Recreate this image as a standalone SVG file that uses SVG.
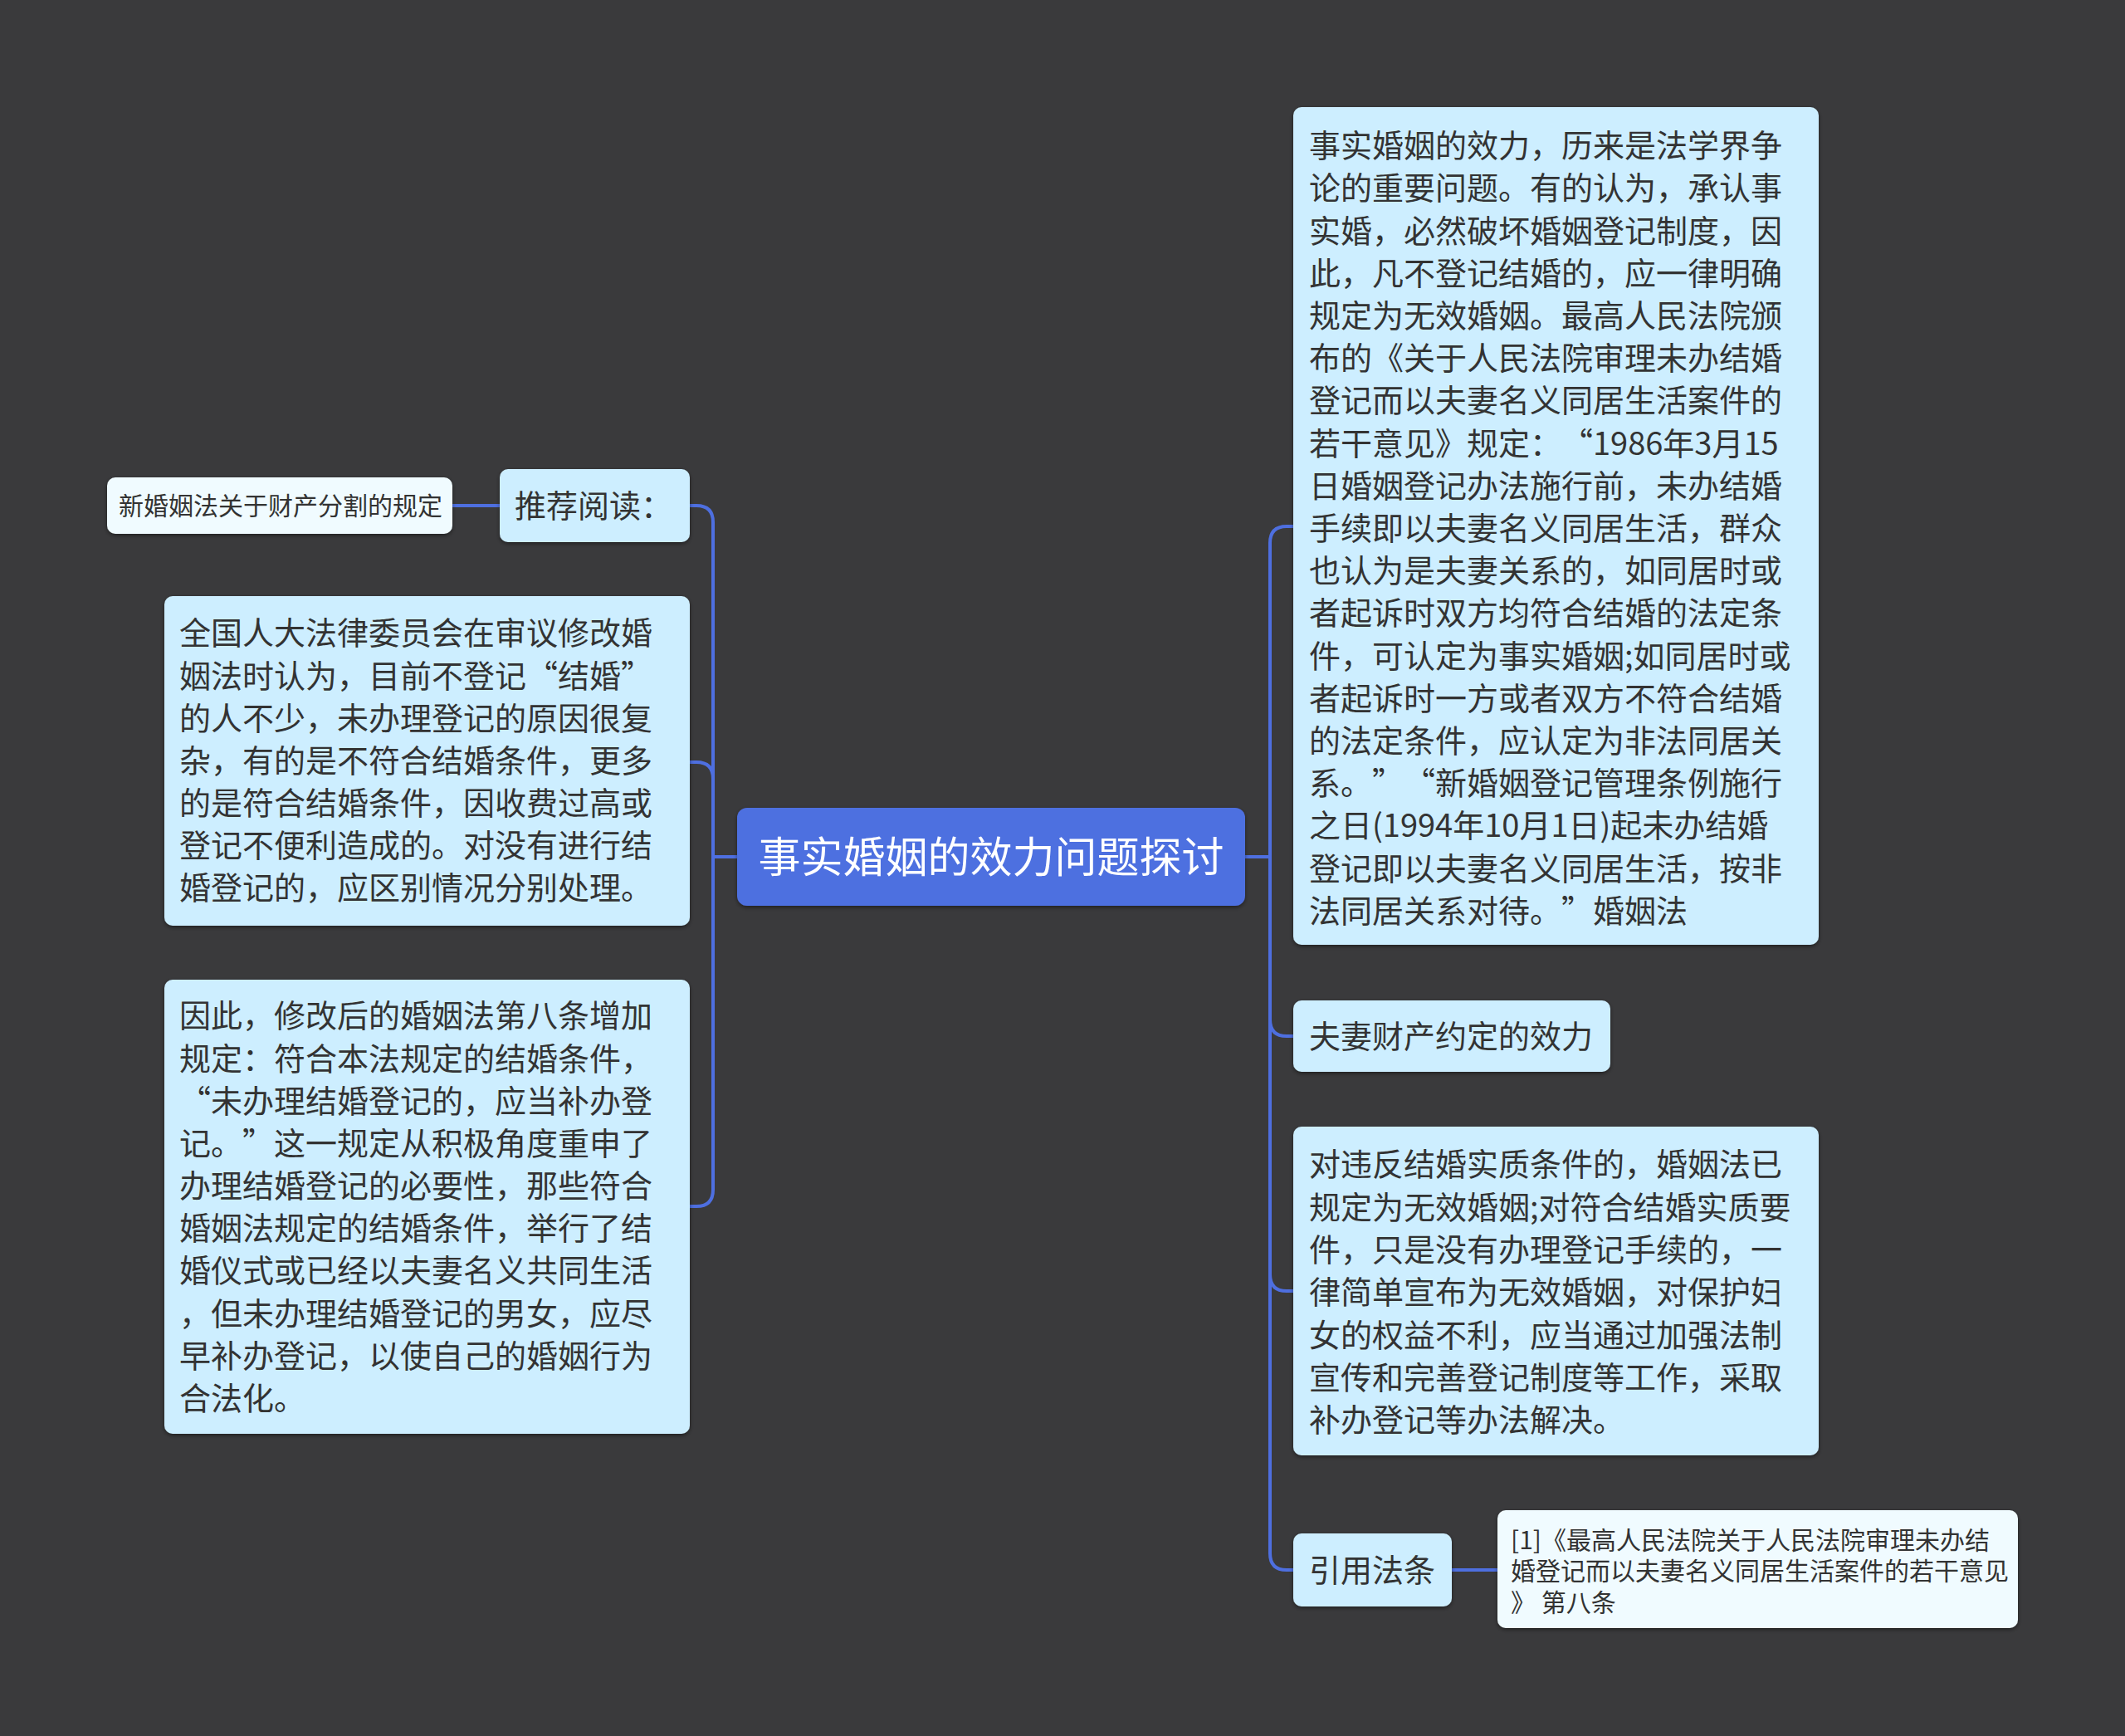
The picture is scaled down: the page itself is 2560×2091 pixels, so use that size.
<svg xmlns="http://www.w3.org/2000/svg" width="2560" height="2091" viewBox="0 0 2560 2091">
<defs>
<filter id="sh" x="-10%" y="-10%" width="120%" height="130%">
<feDropShadow dx="0" dy="2" stdDeviation="2.5" flood-color="#000" flood-opacity="0.45"/>
</filter>
<style>
.n{fill:#cdeeff;filter:url(#sh)}
.leaf{fill:#f0fbff;filter:url(#sh)}
.root{fill:#4e6fe0;filter:url(#sh)}
.t{font-family:"Noto Sans CJK SC","Noto Sans",sans-serif;font-size:38px;fill:#333333}
.ts{font-family:"Noto Sans CJK SC","Noto Sans",sans-serif;font-size:30px;fill:#333333}
.tr{font-family:"Noto Sans CJK SC","Noto Sans",sans-serif;font-size:51px;fill:#ffffff}
.c{fill:none;stroke:#4e6fe0;stroke-width:4;stroke-linecap:round;stroke-linejoin:round}
</style>
</defs>
<rect width="2560" height="2091" fill="#3a3a3c"/>
<g id="connectors">
<path class="c" d="M888 1032 H859 V629 Q859 609 839 609 H831"/>
<path class="c" d="M888 1032 H859 V938 Q859 918 839 918 H831"/>
<path class="c" d="M888 1032 H859 V1433 Q859 1453 839 1453 H831"/>
<path class="c" d="M1500 1032 H1530 V654 Q1530 634 1550 634 H1558"/>
<path class="c" d="M1500 1032 H1530 V1228 Q1530 1248 1550 1248 H1558"/>
<path class="c" d="M1500 1032 H1530 V1535 Q1530 1555 1550 1555 H1558"/>
<path class="c" d="M1500 1032 H1530 V1871 Q1530 1891 1550 1891 H1558"/>
<path class="c" d="M602 609 H545"/>
<path class="c" d="M1749 1891 H1804"/>
</g>
<g id="root">
<rect class="root" x="888" y="973" width="612" height="118" rx="12"/>
<text class="tr" x="1194" y="1051" text-anchor="middle">事实婚姻的效力问题探讨</text>
</g>
<g id="r1">
<rect class="n" x="1558" y="129" width="633" height="1009" rx="10"/>
<text class="t">
<tspan x="1577" y="189">事实婚姻的效力，历来是法学界争</tspan>
<tspan x="1577" y="240">论的重要问题。有的认为，承认事</tspan>
<tspan x="1577" y="292">实婚，必然破坏婚姻登记制度，因</tspan>
<tspan x="1577" y="343">此，凡不登记结婚的，应一律明确</tspan>
<tspan x="1577" y="394">规定为无效婚姻。最高人民法院颁</tspan>
<tspan x="1577" y="445">布的《关于人民法院审理未办结婚</tspan>
<tspan x="1577" y="496">登记而以夫妻名义同居生活案件的</tspan>
<tspan x="1577" y="548">若干意见》规定：</tspan><tspan x="1881" y="548">“</tspan><tspan x="1919" y="548">1986年3月15</tspan>
<tspan x="1577" y="599">日婚姻登记办法施行前，未办结婚</tspan>
<tspan x="1577" y="650">手续即以夫妻名义同居生活，群众</tspan>
<tspan x="1577" y="701">也认为是夫妻关系的，如同居时或</tspan>
<tspan x="1577" y="752">者起诉时双方均符合结婚的法定条</tspan>
<tspan x="1577" y="804">件，可认定为事实婚姻;如同居时或</tspan>
<tspan x="1577" y="855">者起诉时一方或者双方不符合结婚</tspan>
<tspan x="1577" y="906">的法定条件，应认定为非法同居关</tspan>
<tspan x="1577" y="957">系。</tspan><tspan x="1653" y="957">”</tspan><tspan x="1691" y="957">“</tspan><tspan x="1729" y="957">新婚姻登记管理条例施行</tspan>
<tspan x="1577" y="1008">之日(1994年10月1日)起未办结婚</tspan>
<tspan x="1577" y="1060">登记即以夫妻名义同居生活，按非</tspan>
<tspan x="1577" y="1111">法同居关系对待。</tspan><tspan x="1881" y="1111">”</tspan><tspan x="1919" y="1111">婚姻法</tspan>
</text>
</g>
<g id="r2">
<rect class="n" x="1558" y="1205" width="382" height="86" rx="10"/>
<text class="t" x="1577" y="1262">夫妻财产约定的效力</text>
</g>
<g id="r3">
<rect class="n" x="1558" y="1357" width="633" height="396" rx="10"/>
<text class="t">
<tspan x="1577" y="1416">对违反结婚实质条件的，婚姻法已</tspan>
<tspan x="1577" y="1468">规定为无效婚姻;对符合结婚实质要</tspan>
<tspan x="1577" y="1519">件，只是没有办理登记手续的，一</tspan>
<tspan x="1577" y="1570">律简单宣布为无效婚姻，对保护妇</tspan>
<tspan x="1577" y="1622">女的权益不利，应当通过加强法制</tspan>
<tspan x="1577" y="1673">宣传和完善登记制度等工作，采取</tspan>
<tspan x="1577" y="1724">补办登记等办法解决。</tspan>
</text>
</g>
<g id="r4">
<rect class="n" x="1558" y="1847" width="191" height="88" rx="10"/>
<text class="t" x="1577" y="1905">引用法条</text>
</g>
<g id="r4a">
<rect class="leaf" x="1804" y="1819" width="627" height="142" rx="10"/>
<text class="ts">
<tspan x="1820" y="1866">[1]《最高人民法院关于人民法院审理未办结</tspan>
<tspan x="1820" y="1903">婚登记而以夫妻名义同居生活案件的若干意见</tspan>
<tspan x="1820" y="1941">》 第八条</tspan>
</text>
</g>
<g id="l1">
<rect class="n" x="602" y="565" width="229" height="88" rx="10"/>
<text class="t" x="620" y="623">推荐阅读：</text>
</g>
<g id="l1a">
<rect class="leaf" x="129" y="575" width="416" height="68" rx="10"/>
<text class="ts" x="143" y="620">新婚姻法关于财产分割的规定</text>
</g>
<g id="l2">
<rect class="n" x="198" y="718" width="633" height="397" rx="10"/>
<text class="t">
<tspan x="216" y="776">全国人大法律委员会在审议修改婚</tspan>
<tspan x="216" y="828">姻法时认为，目前不登记</tspan><tspan x="634" y="828">“</tspan><tspan x="672" y="828">结婚</tspan><tspan x="748" y="828">”</tspan>
<tspan x="216" y="879">的人不少，未办理登记的原因很复</tspan>
<tspan x="216" y="930">杂，有的是不符合结婚条件，更多</tspan>
<tspan x="216" y="981">的是符合结婚条件，因收费过高或</tspan>
<tspan x="216" y="1032">登记不便利造成的。对没有进行结</tspan>
<tspan x="216" y="1083">婚登记的，应区别情况分别处理。</tspan>
</text>
</g>
<g id="l3">
<rect class="n" x="198" y="1180" width="633" height="547" rx="10"/>
<text class="t">
<tspan x="216" y="1237">因此，修改后的婚姻法第八条增加</tspan>
<tspan x="216" y="1289">规定：符合本法规定的结婚条件，</tspan>
<tspan x="216" y="1340">“</tspan><tspan x="254" y="1340">未办理结婚登记的，应当补办登</tspan>
<tspan x="216" y="1391">记。</tspan><tspan x="292" y="1391">”</tspan><tspan x="330" y="1391">这一规定从积极角度重申了</tspan>
<tspan x="216" y="1442">办理结婚登记的必要性，那些符合</tspan>
<tspan x="216" y="1493">婚姻法规定的结婚条件，举行了结</tspan>
<tspan x="216" y="1544">婚仪式或已经以夫妻名义共同生活</tspan>
<tspan x="216" y="1596">，但未办理结婚登记的男女，应尽</tspan>
<tspan x="216" y="1647">早补办登记，以使自己的婚姻行为</tspan>
<tspan x="216" y="1698">合法化。</tspan>
</text>
</g>
</svg>
